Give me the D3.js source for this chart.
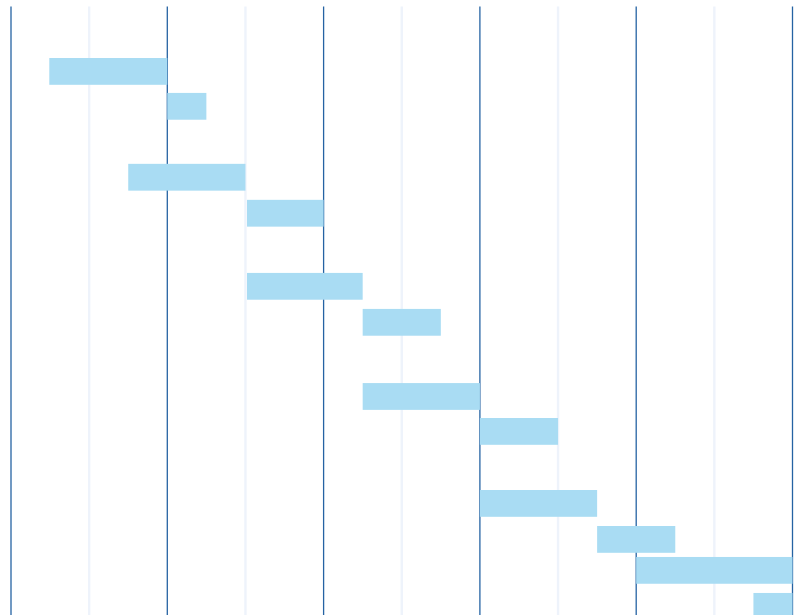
<!DOCTYPE html>
<html>
<head>
<meta charset="utf-8">
<script src="https://cdn.jsdelivr.net/npm/d3@7"></script>
<style>
  html, body { margin: 0; padding: 0; background: #ffffff; overflow: hidden; }
  svg { display: block; }
</style>
</head>
<body>
<svg id="chart" width="800" height="615"></svg>
<script>
// Tasks: start / end in time units (one unit = minor gridline step), row position
const taskNames = ["T1","T2","T3","T4","T5","T6","T7","T8","T9","T10","T11","T12"];
const taskStart = [0.49, 2.0, 1.5, 3.02, 3.02, 4.5, 4.5, 6.0, 6.0, 7.5, 8.0, 9.5];
const taskEnd   = [2.0, 2.5, 3.0, 4.0, 4.5, 5.5, 6.0, 7.0, 7.5, 8.5, 10.0, 10.0];
const taskRow   = [0, 0.97, 2.94, 3.94, 5.97, 6.97, 9.03, 10, 12, 13, 13.86, 14.86];
const majorTicks = [0, 2, 4, 6, 8, 10];
const minorTicks = [1, 3, 5, 7, 9];

const svg = d3.select("#chart");
const x = d3.scaleLinear().domain([0, 10]).range([11, 792.5]);
const y = d3.scaleLinear().domain([0, 1]).range([58, 94]);
const barH = 26.8;

// minor gridlines
svg.append("g").selectAll("line").data(minorTicks).join("line")
  .attr("x1", d => x(d)).attr("x2", d => x(d))
  .attr("y1", 6.5).attr("y2", 615)
  .attr("stroke", "#eef3fb").attr("stroke-width", 2.4);

// major gridlines
svg.append("g").selectAll("line").data(majorTicks).join("line")
  .attr("x1", d => x(d)).attr("x2", d => x(d))
  .attr("y1", 6.5).attr("y2", 615)
  .attr("stroke", "#2563a3").attr("stroke-width", 1.3);

// bars
svg.append("g").selectAll("rect").data(taskNames).join("rect")
  .attr("x", (d, i) => x(taskStart[i]))
  .attr("width", (d, i) => x(taskEnd[i]) - x(taskStart[i]))
  .attr("y", (d, i) => y(taskRow[i]))
  .attr("height", barH)
  .attr("fill", "#a9dcf3");
</script>
</body>
</html>
